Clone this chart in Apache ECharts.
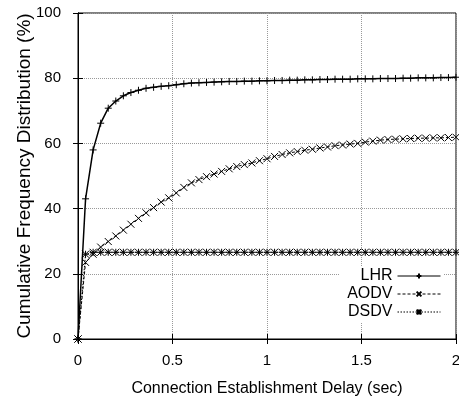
<!DOCTYPE html>
<html>
<head>
<meta charset="utf-8">
<script src="https://cdn.jsdelivr.net/npm/echarts@6/dist/echarts.min.js"></script>
<style>
  html, body { margin: 0; padding: 0; background: #fff; }
  #chart { width: 459px; height: 400px; }
</style>
</head>
<body>
<div id="chart"></div>
<script>
// delay values (sec), one sample every 0.04 s
var delaySec = [
  0, 0.04, 0.08, 0.12, 0.16, 0.2, 0.24, 0.28, 0.32, 0.36,
  0.4, 0.44, 0.48, 0.52, 0.56, 0.6, 0.64, 0.68, 0.72, 0.76,
  0.8, 0.84, 0.88, 0.92, 0.96, 1.0, 1.04, 1.08, 1.12, 1.16,
  1.2, 1.24, 1.28, 1.32, 1.36, 1.4, 1.44, 1.48, 1.52, 1.56,
  1.6, 1.64, 1.68, 1.72, 1.76, 1.8, 1.84, 1.88, 1.92, 1.96, 2.0
];
// cumulative frequency (%)
var lhr = [
  0, 43, 58, 66.2, 70.8, 73.0, 74.6, 75.6, 76.3, 76.9,
  77.2, 77.5, 77.7, 78.0, 78.3, 78.5, 78.6, 78.7, 78.8, 78.9,
  79.0, 79.0, 79.1, 79.1, 79.2, 79.2, 79.3, 79.3, 79.4, 79.4,
  79.5, 79.5, 79.6, 79.6, 79.7, 79.7, 79.7, 79.8, 79.8, 79.8,
  79.9, 79.9, 79.9, 80.0, 80.0, 80.1, 80.1, 80.1, 80.2, 80.2, 80.3
];
var aodv = [
  0, 23.5, 26.0, 28.2, 29.9, 31.6, 33.4, 35.2, 37.0, 38.7,
  40.3, 42.0, 43.3, 44.8, 46.5, 47.9, 48.9, 49.8, 50.6, 51.4,
  52.2, 52.9, 53.5, 54.0, 54.7, 55.3, 56.0, 56.6, 57.1, 57.5,
  57.9, 58.2, 58.6, 58.9, 59.3, 59.5, 59.8, 60.0, 60.4, 60.7,
  61.0, 61.2, 61.3, 61.4, 61.5, 61.6, 61.6, 61.7, 61.7, 61.8, 61.9
];
var dsdv = [
  0, 26.0, 26.6, 26.6, 26.6, 26.6, 26.6, 26.6, 26.6, 26.6,
  26.6, 26.6, 26.6, 26.6, 26.6, 26.6, 26.6, 26.6, 26.6, 26.6,
  26.6, 26.6, 26.6, 26.6, 26.6, 26.6, 26.6, 26.6, 26.6, 26.6,
  26.6, 26.6, 26.6, 26.6, 26.6, 26.6, 26.6, 26.6, 26.6, 26.6,
  26.6, 26.6, 26.6, 26.6, 26.6, 26.6, 26.6, 26.6, 26.6, 26.6, 26.6
];
var seriesNames = ["LHR", "AODV", "DSDV"];

var FONT = "'Liberation Sans', Arial, sans-serif";

// gnuplot style point markers
var plusMark = "path://M0,4L8,4M4,0L4,8";
var crossMark = "path://M0,0L8,8M8,0L0,8";
var starMark = "path://M0,4L8,4M4,0L4,8M0,0L8,8M8,0L0,8";

function pairs(ys) {
  return delaySec.map(function (x, i) { return [x, ys[i]]; });
}

function lineSeries(name, ys, mark, lineType, width) {
  return {
    name: name,
    type: "line",
    data: pairs(ys),
    symbol: mark,
    symbolSize: 7,
    showAllSymbol: true,
    animation: false,
    itemStyle: { color: "#000", borderColor: "#000", borderWidth: 1 },
    lineStyle: { color: "#000", width: width, type: lineType },
    z: 3
  };
}

var tickText = { color: "#000", fontFamily: FONT, fontSize: 15 };

var chart = echarts.init(document.getElementById("chart"));
chart.setOption({
  backgroundColor: "#fff",
  textStyle: { fontFamily: FONT },
  grid: {
    left: 78, right: 3, top: 13, bottom: 61,
    outerBoundsMode: "none",
    show: true, borderColor: "#000", borderWidth: 1, backgroundColor: "transparent"
  },
  legend: {
    data: seriesNames,
    orient: "vertical",
    right: 16,
    top: 266,
    align: "right",
    itemWidth: 43,
    itemHeight: 6,
    itemGap: 2,
    padding: [2, 2, 2, 8],
    backgroundColor: "#fff",
    lineStyle: { width: 1 },
    textStyle: { color: "#000", fontFamily: FONT, fontSize: 16 }
  },
  xAxis: [
    {
      type: "value", min: 0, max: 2, interval: 0.5,
      name: "Connection Establishment Delay (sec)",
      nameLocation: "middle", nameGap: 42, nameMoveOverlap: false,
      nameTextStyle: { color: "#000", fontFamily: FONT, fontSize: 16 },
      axisLine: { lineStyle: { color: "#000" } },
      axisTick: { inside: true, length: 5, lineStyle: { color: "#000" } },
      axisLabel: Object.assign({ margin: 14 }, tickText),
      splitLine: { show: true, lineStyle: { color: "#999", type: "dotted" } }
    },
    {
      type: "value", min: 0, max: 2, interval: 0.5, position: "top",
      axisLine: { lineStyle: { color: "#000" } },
      axisTick: { inside: true, length: 5, lineStyle: { color: "#000" } },
      axisLabel: { show: false }, splitLine: { show: false }
    }
  ],
  yAxis: [
    {
      type: "value", min: 0, max: 100, interval: 20,
      name: "Cumulative Frequency Distribution (%)",
      nameLocation: "middle", nameGap: 44, nameMoveOverlap: false,
      nameTextStyle: { color: "#000", fontFamily: FONT, fontSize: 19 },
      axisLine: { lineStyle: { color: "#000" } },
      axisTick: { inside: true, length: 5, lineStyle: { color: "#000" } },
      axisLabel: Object.assign({ margin: 17 }, tickText),
      splitLine: { show: true, lineStyle: { color: "#999", type: "dotted" } }
    },
    {
      type: "value", min: 0, max: 100, interval: 20, position: "right",
      axisLine: { lineStyle: { color: "#000" } },
      axisTick: { inside: true, length: 5, lineStyle: { color: "#000" } },
      axisLabel: { show: false }, splitLine: { show: false }
    }
  ],
  series: [
    lineSeries(seriesNames[0], lhr, plusMark, "solid", 1.5),
    lineSeries(seriesNames[1], aodv, crossMark, [3, 2], 1),
    lineSeries(seriesNames[2], dsdv, starMark, [1.5, 1.5], 1)
  ]
});
</script>
</body>
</html>
